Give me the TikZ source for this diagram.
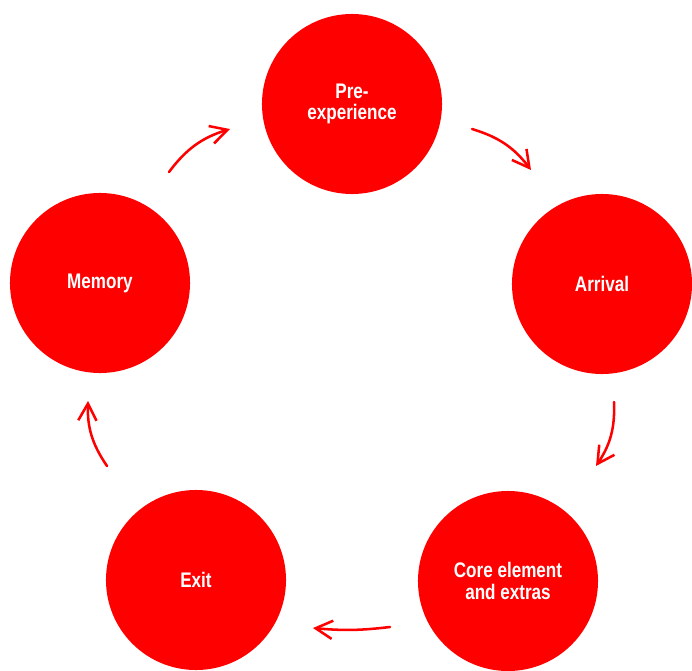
\documentclass[tikz,border=0pt]{standalone}
\usepackage{fontspec}
\setmainfont{Liberation Sans}[FakeStretch=0.81]
\usetikzlibrary{arrows.meta}
\definecolor{cred}{HTML}{FF0000}

\begin{document}
\begin{tikzpicture}[
  x=0.025cm, y=-0.025cm,
  stage/.style={circle, fill=cred, draw=none, minimum size=4.5cm,
                inner sep=0pt, align=center, text=white,
                font=\fontsize{15}{15.5}\selectfont\bfseries},
  arr/.style={-{Straight Barb[length=12pt,width=13pt,line width=1.8pt]},
              line width=1.8pt, cred, line cap=round}]
  \useasboundingbox (0,0) rectangle (692,671);
  % the five stages
  \node[stage] (pre)  at (352,104) {Pre-\\experience};
  \node[stage] (arr)  at (602,284) {Arrival};
  \node[stage] (core) at (508,581) {Core element\\and extras};
  \node[stage] (exit) at (196,580) {Exit};
  \node[stage] (mem)  at (100,283) {Memory};
  % free ends of the arrows between stages
  \coordinate (p1) at (169,172); \coordinate (p2) at (230,129);
  \coordinate (a1) at (472,129); \coordinate (a2) at (531,170);
  \coordinate (c1) at (614,402); \coordinate (c2) at (596,466);
  \coordinate (e1) at (390,627); \coordinate (e2) at (313,628);
  \coordinate (m1) at (107,466); \coordinate (m2) at (88,401);
  \draw[arr] (p1) to[bend left=18] (p2);
  \draw[arr] (a1) to[bend left=18] (a2);
  \draw[arr] (c1) to[bend left=18] (c2);
  \draw[arr] (e1) to[bend left=6] (e2);
  \draw[arr] (m1) to[bend left=18] (m2);
\end{tikzpicture}
\end{document}
